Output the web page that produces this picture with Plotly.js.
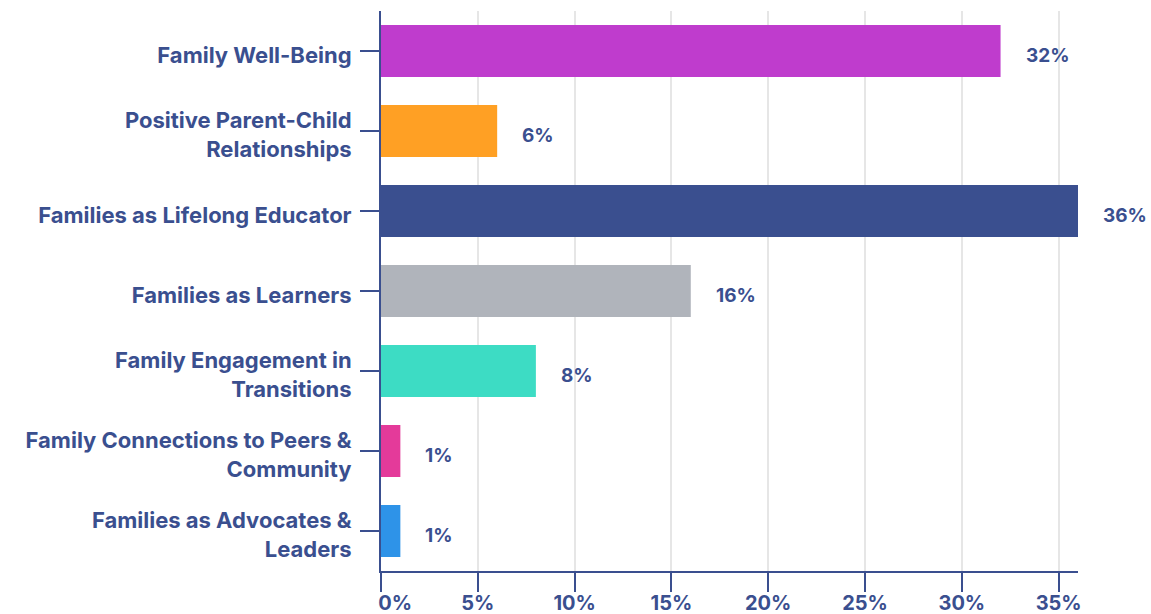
<!DOCTYPE html>
<html>
<head>
<meta charset="utf-8">
<script src="https://cdn.plot.ly/plotly-3.0.1.min.js"></script>
<style>html,body{margin:0;padding:0;background:#fff;}#chart{width:1151px;height:614px;}</style>
</head>
<body>
<div id="chart"></div>
<script>
const categories = [
  "Family Well-Being",
  "Positive Parent-Child<br>Relationships",
  "Families as Lifelong Educator",
  "Families as Learners",
  "Family Engagement in<br>Transitions",
  "Family Connections to Peers &<br>Community",
  "Families as Advocates &<br>Leaders"
];
const values = [32, 6, 36, 16, 8, 1, 1];
const barColors = ["#bf3ccd", "#ffa024", "#3a4f8f", "#b0b4bb", "#3ddcc4", "#e43a9a", "#2e93e8"];
const xTickVals = [0, 5, 10, 15, 20, 25, 30, 35];
const xTickText = ["\u00a0\u00a0\u00a0\u00a0\u00a0\u00a00%", "5%", "10%", "15%", "20%", "25%", "30%", "35%"];

const navy = "#3a4f8f";
const fontFam = "Inter, 'Open Sans', sans-serif";

const trace = {
  type: "bar",
  orientation: "h",
  y: categories,
  x: values,
  marker: {color: barColors},
  hoverinfo: "none"
};

const annotations = values.map((v, i) => ({
  x: v, y: categories[i], xref: "x", yref: "y",
  text: v + "%", showarrow: false, xanchor: "left", xshift: 23, yshift: -4,
  font: {family: fontFam, size: 19, color: navy, weight: 700}
}));

const layout = {
  width: 1151, height: 614,
  margin: {l: 381, r: 73, t: 11, b: 43, pad: 0},
  paper_bgcolor: "#fff", plot_bgcolor: "#fff",
  showlegend: false,
  bargap: 0.35,
  font: {family: fontFam, color: navy, weight: 700},
  xaxis: {
    range: [0, 36],
    tickvals: xTickVals, ticktext: xTickText,
    showgrid: true, gridcolor: "#e6e6e6", gridwidth: 2,
    zeroline: false,
    showline: true, linecolor: navy, linewidth: 2,
    ticks: "outside", ticklen: 19, tickwidth: 2, tickcolor: navy,
    ticklabelstandoff: -6,
    tickfont: {family: fontFam, size: 20, color: navy, weight: 700}
  },
  yaxis: {
    autorange: "reversed",
    showgrid: false, zeroline: false,
    showline: true, linecolor: navy, linewidth: 2,
    ticks: "outside", ticklen: 19, tickwidth: 2, tickcolor: navy,
    ticklabelstandoff: 4,
    ticklabelshift: -4,
    tickfont: {family: fontFam, size: 22, color: navy, weight: 700}
  },
  annotations: annotations
};

Plotly.newPlot("chart", [trace], layout, {displayModeBar: false, staticPlot: true});
</script>
</body>
</html>
